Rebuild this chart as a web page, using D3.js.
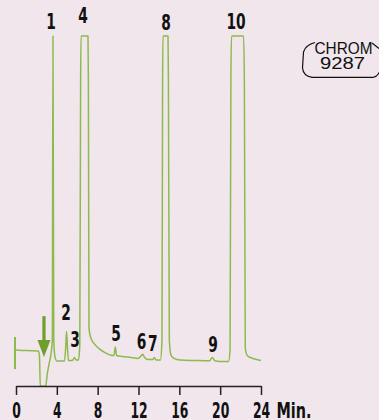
<!DOCTYPE html>
<html><head><meta charset="utf-8">
<script src="https://cdn.jsdelivr.net/npm/d3@7"></script>
<style>
html,body{margin:0;padding:0;background:#f0e6ec;}
svg{display:block;}
</style></head>
<body>
<svg id="c" width="379" height="420"></svg>
<script>
// ---- data ----
const traceT = [-0.10,1.08,2.20,2.30,2.38,2.89,3.09,3.28,3.43,3.56,3.62,3.70,3.82,4.02,4.75,4.88,4.95,5.03,5.14,5.53,5.73,5.88,6.12,6.25,6.33,6.37,7.05,7.09,7.15,7.30,7.64,8.13,8.72,9.31,9.60,9.73,9.85,10.38,11.27,11.95,12.24,12.41,12.59,12.93,13.42,13.57,13.71,14.15,14.30,14.36,14.40,14.89,14.93,15.02,15.18,15.48,16.07,17.54,18.96,19.23,19.49,19.98,20.82,20.97,21.05,21.11,22.29,22.37,22.46,22.63,22.93,23.42,24.00];
const traceS = [3.4,3.2,3.1,1.5,-7.7,-7.8,-3.4,-0.3,2.2,6.5,100,6.5,1.2,0,0,4.9,9.1,4.9,0.15,0.15,1.1,0.3,0.3,4.9,86.5,100,100,86.5,10.2,7.4,5.4,3.8,2.6,1.8,1.7,4.3,1.7,1.4,1.1,0.8,1.5,2.1,1.1,0.5,0.5,1.1,0.3,0.3,6.5,86.5,100,100,86.5,6.5,1.8,0.8,0.3,0.15,0.05,1.1,0.05,-0.15,-0.15,3.4,86.5,100,100,86.5,4.0,1.8,1.1,0.6,0.15];
const peakLabels = ["1","2","3","4","5","6","7","8","9","10"];
const labelT = [3.43,4.90,5.78,6.56,9.80,12.31,13.39,14.69,19.30,21.55];
const labelS = [102.1,12.6,4.4,103.9,6.25,3.7,3.1,101.8,2.7,102.1];
const tickValues = [0,4,8,12,16,20,24];
const axisUnit = "Min.";
const injectMarker = {t:-0.1, low:-2.5, high:7.4};
const arrowMark = {t:2.74, from:13.8, to:1.2};
const badgeLines = ["CHROM","9287"];

// ---- scales ----
const svg = d3.select("#c");
const x = d3.scaleLinear().domain([0,24]).range([16,261]);
const y = d3.scaleLinear().domain([0,100]).range([361,36]);

const traceColor = "#8cbb4c";
const arrowColor = "#6f9e2c";
const font = "'Liberation Sans Narrow','DejaVu Sans Condensed',sans-serif";

// injection marker
svg.append("line")
  .attr("x1",x(injectMarker.t)).attr("x2",x(injectMarker.t))
  .attr("y1",y(injectMarker.high)).attr("y2",y(injectMarker.low))
  .attr("stroke",traceColor).attr("stroke-width",2);

// trace
const pts = traceT.map((t,i)=>[t,traceS[i]]);
svg.append("path")
  .attr("d", d3.line().x(d=>x(d[0])).y(d=>y(d[1])).curve(d3.curveMonotoneX)(pts))
  .attr("fill","none").attr("stroke",traceColor).attr("stroke-width",1.5)
  .attr("stroke-linejoin","round");

// arrow
const ax = x(arrowMark.t), ay0 = y(arrowMark.from), ay1 = y(arrowMark.to);
svg.append("line").attr("x1",ax).attr("x2",ax).attr("y1",ay0).attr("y2",ay1-14)
  .attr("stroke",arrowColor).attr("stroke-width",3.2);
svg.append("path")
  .attr("d",`M${ax-6.5},${ay1-17}L${ax+6.5},${ay1-17}L${ax},${ay1}Z`)
  .attr("fill",arrowColor);

// axis
const axisY = 386;
const axis = d3.axisBottom(x).tickValues(tickValues).tickSize(9).tickPadding(6).tickSizeOuter(0);
const g = svg.append("g").attr("transform",`translate(0,${axisY})`).call(axis);
g.select(".domain").attr("stroke","#222").attr("stroke-width",1.5);
g.selectAll(".tick line").attr("stroke","#222").attr("stroke-width",1.5).attr("y1",0);
g.selectAll(".tick text").attr("font-family",font).attr("font-weight","bold")
  .attr("font-size",22).attr("fill","#111").attr("dy",0).attr("y",32)
  .attr("textLength",d=>String(d).length*8.6).attr("lengthAdjust","spacingAndGlyphs");
svg.append("text").attr("x",x(24)+15.5).attr("y",axisY+32)
  .attr("font-family",font).attr("font-weight","bold").attr("font-size",22).attr("fill","#111")
  .attr("textLength",35).attr("lengthAdjust","spacingAndGlyphs")
  .text(axisUnit);

// peak labels
svg.selectAll("text.pk").data(peakLabels).enter().append("text").attr("class","pk")
  .attr("x",(d,i)=>x(labelT[i])).attr("y",(d,i)=>y(labelS[i]))
  .attr("text-anchor","middle").attr("font-family",font).attr("font-weight","bold")
  .attr("font-size",22).attr("fill","#111")
  .attr("textLength",d=>d.length*9.6).attr("lengthAdjust","spacingAndGlyphs")
  .text(d=>d);

// badge
const b = svg.append("g");
b.append("path")
  .attr("d","M315,42.5 C309,44 305,47 303.5,52 L302.5,68 C303,73 306,76.5 312,77.3 L373,77.3 C376,77 378,75 379.5,72")
  .attr("fill","none").attr("stroke","#111").attr("stroke-width",1.2);
b.append("path").attr("d","M372,43 L379,48.5").attr("fill","none").attr("stroke","#111").attr("stroke-width",1.2);
b.append("text").attr("x",314.5).attr("y",54.3).attr("textLength",58).attr("lengthAdjust","spacingAndGlyphs")
  .attr("font-family","'Liberation Sans',Arial,sans-serif").attr("font-size",16).attr("fill","#111").text(badgeLines[0]);
b.append("text").attr("x",320).attr("y",68.5).attr("textLength",45).attr("lengthAdjust","spacingAndGlyphs")
  .attr("font-family","'Liberation Sans',Arial,sans-serif").attr("font-size",16).attr("fill","#111").text(badgeLines[1]);
</script>
</body></html>
